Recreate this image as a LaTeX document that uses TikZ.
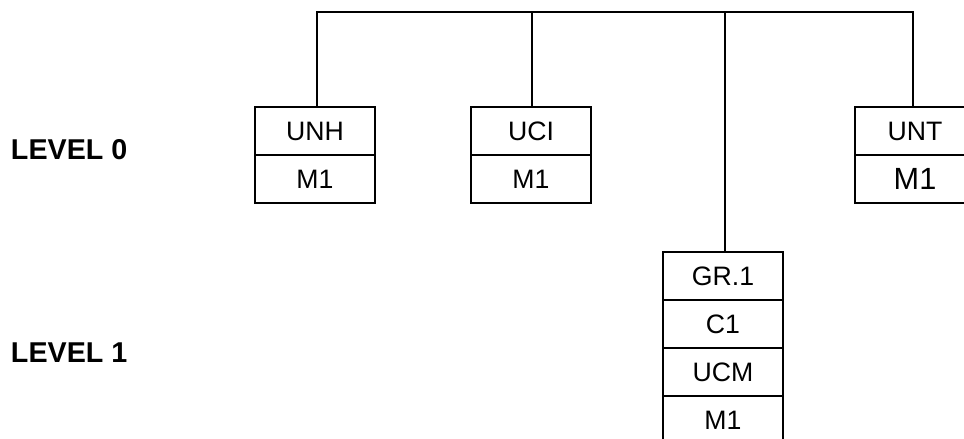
\documentclass[tikz,border=0pt]{standalone}
\usepackage{fontspec}
\setmainfont{Liberation Sans}
\begin{document}
\begin{tikzpicture}[x=0.75pt,y=-0.75pt, line width=1.5pt,
  cell/.style={draw, minimum width=90pt, minimum height=36pt, inner sep=0pt, outer sep=0pt,
    font=\fontsize{20}{24}\selectfont, anchor=center},
  lvl/.style={font=\bfseries\fontsize{21.5}{26}\selectfont, anchor=west, inner sep=0pt}]
\useasboundingbox (0,0) rectangle (964,439);
\clip (0,0) rectangle (964,439);
% level labels
\node[lvl] (l0) at (10,150) {LEVEL 0};
\node[lvl] (l1) at (10,353) {LEVEL 1};
% level 0 boxes
\node[cell] (unh) at (315,131) {UNH};
\node[cell] (unhm) at (315,179) {M1};
\node[cell] (uci) at (531,131) {UCI};
\node[cell] (ucim) at (531,179) {M1};
\node[cell] (unt) at (915,131) {UNT\hspace{18pt}};
\node[cell, font=\fontsize{23}{27}\selectfont] (untm) at (915,179) {M1\hspace{4.5pt}};
% level 1 box
\node[cell] (gr) at (723,276) {GR.1};
\node[cell] (grc) at (723,324) {C1};
\node[cell] (gru) at (723,372) {UCM};
\node[cell] (grm) at (723,420) {M1};
% connectors
\coordinate (busL) at (317,12);
\coordinate (busB) at (532,12);
\coordinate (busC) at (725,12);
\coordinate (busR) at (913,12);
\draw (busL |- unh.north) -- (busL) -- (busR) -- (busR |- unt.north);
\draw (busB) -- (busB |- uci.north);
\draw (busC) -- (busC |- gr.north);
\end{tikzpicture}
\end{document}
